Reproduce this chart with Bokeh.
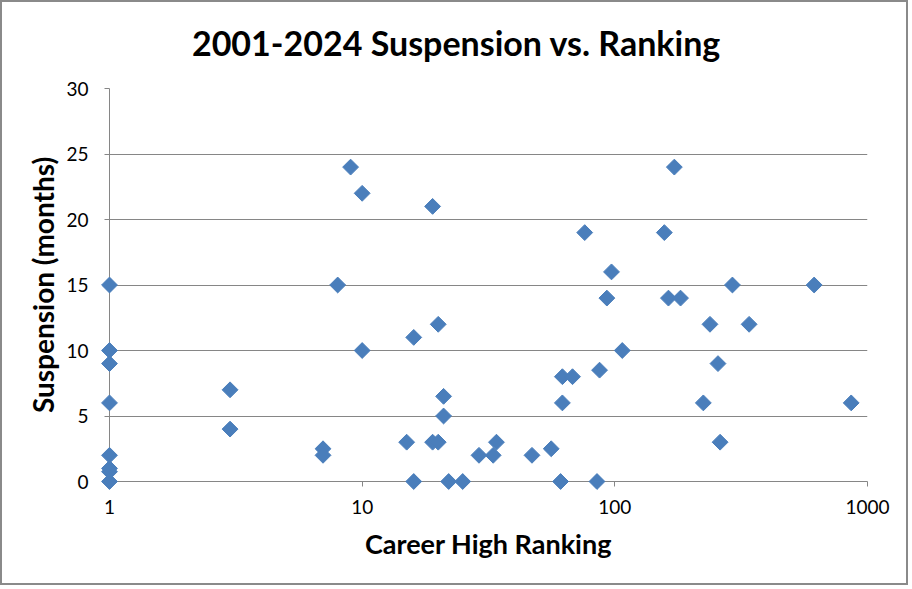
import numpy as np
from bokeh.plotting import figure
from bokeh.models import Range1d, FixedTicker, ColumnDataSource
from bokeh.core.properties import value
from bokeh.embed import file_html
from bokeh.resources import INLINE

# Career high ranking (x) and suspension length in months (y)
ranking = [1, 1, 1, 1, 1, 1, 1, 1,
           3, 3, 7, 7, 8, 9, 10, 10,
           15, 16, 16, 19, 19, 20, 20, 21, 21, 22, 25,
           29, 33, 34, 47, 56, 61, 62, 62, 68, 76, 85, 87,
           93, 97, 107, 157, 163, 172, 182, 224, 238, 256,
           261, 292, 340, 615, 862]
suspension = [15, 10, 9, 6, 2, 1, 0.75, 0,
              7, 4, 2.5, 2, 15, 24, 22, 10,
              3, 11, 0, 21, 3, 12, 3, 6.5, 5, 0, 0,
              2, 2, 3, 2, 2.5, 0, 8, 6, 8, 19, 0, 8.5,
              14, 16, 10, 19, 14, 24, 14, 6, 12, 9,
              3, 15, 12, 15, 6]
x_ticks = [1, 10, 100, 1000]
y_ticks = [0, 5, 10, 15, 20, 25, 30]
title_text = "2001-2024 Suspension vs. Ranking"

FONT = "Lato"
GRID = "#868686"

W, H = 908, 585
ML, MR, MT, MB = 107, 43, 86, 106
X0, X1, Y0, Y1 = 1, 1000, 0, 30

src = ColumnDataSource(dict(x=ranking, y=suspension))

p = figure(width=W, height=H, x_axis_type="log",
           x_range=Range1d(X0, X1), y_range=Range1d(Y0, Y1),
           output_backend="svg", toolbar_location=None,
           min_border_left=ML, min_border_right=MR,
           min_border_top=MT, min_border_bottom=MB)
p.styles = {"border": "2px solid #8a8a8a"}

# title: centred on the whole chart, 46 px above the plot frame
frame_w = W - ML - MR
frame_h = H - MT - MB
title_frac_x = (W / 2 - ML) / frame_w
title_x = 10 ** (np.log10(X0) + title_frac_x * (np.log10(X1) - np.log10(X0)))
title_y = Y1 + 46 / frame_h * (Y1 - Y0)
t = p.text(x=[title_x], y=[title_y], text=[title_text],
           text_align="center", text_baseline="middle",
           text_font=value(FONT), text_font_size="34px", text_font_style="bold",
           text_color="black")
t.level = "overlay"

p.outline_line_color = None
p.background_fill_color = "white"
p.border_fill_color = "white"

p.xgrid.grid_line_color = None
p.ygrid.grid_line_color = GRID
p.ygrid.grid_line_width = 1
p.ygrid.ticker = FixedTicker(ticks=y_ticks)

p.xaxis.ticker = FixedTicker(ticks=x_ticks, minor_ticks=[])
p.xaxis.major_label_overrides = {1: "1", 10: "10", 100: "100", 1000: "1000"}
p.yaxis.ticker = FixedTicker(ticks=y_ticks, minor_ticks=[])

for ax in (p.xaxis[0], p.yaxis[0]):
    ax.axis_line_color = GRID
    ax.major_tick_line_color = GRID
    ax.major_tick_in = 0
    ax.major_tick_out = 5
    ax.minor_tick_line_color = None
    ax.major_label_text_font = FONT
    ax.major_label_text_font_size = "19px"
    ax.major_label_text_color = "black"
    ax.axis_label_text_font = FONT
    ax.axis_label_text_font_style = "bold"
    ax.axis_label_text_color = "black"

p.xaxis.axis_label = "Career High Ranking"
p.yaxis.axis_label = "Suspension (months)"
p.xaxis.axis_label_text_font_size = "27px"
p.yaxis.axis_label_text_font_size = "28px"
p.xaxis.major_label_standoff = 13
p.xaxis.axis_label_standoff = 10
p.yaxis.major_label_standoff = 16
p.yaxis.axis_label_standoff = 3

r = p.scatter("x", "y", source=src, marker="square", size=11.2, angle=np.pi / 4,
              fill_color="#4a7ebb", line_color="#4a7ebb", line_width=1)
r.level = "overlay"

open("out.html", "w").write(file_html(p, INLINE))
